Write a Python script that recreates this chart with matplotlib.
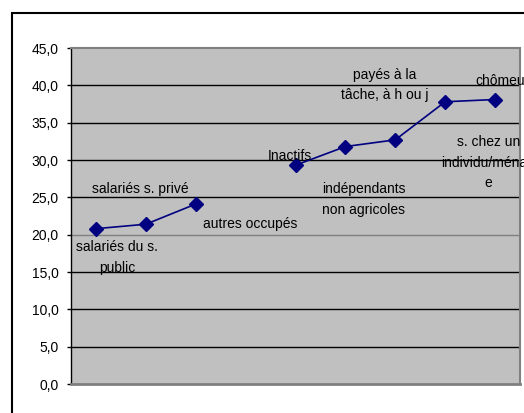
import numpy as np
import matplotlib
matplotlib.use("Agg")
import matplotlib.pyplot as plt
from matplotlib.patches import Rectangle
from matplotlib.ticker import FuncFormatter

# data (4th slot is empty in the original)
categories = ["salariés du s.\npublic", "salariés s. privé", "autres occupés", "",
              "Inactifs", "indépendants\nnon agricoles", "payés à la\ntâche, à h ou j",
              "s. chez un\nindividu/ménag\ne", "chômeurs"]
values = [20.8, 21.4, 24.1, np.nan, 29.3, 31.8, 32.7, 37.8, 38.1]
y_ticks = [0, 5, 10, 15, 20, 25, 30, 35, 40, 45]

# label offsets in pixels (x, y) relative to each point
label_offsets = [(21, -29), (-6, 35), (54, -20), (0, 0), (-6, 9),
                 (18, -53), (-11, 55), (43, -61), (11, 19)]

plt.rcParams['font.family'] = ['Liberation Sans', 'DejaVu Sans']
plt.rcParams['font.size'] = 10

fig = plt.figure(figsize=(5.24, 4.13), dpi=100)
fig.patch.set_facecolor("white")

# outer chart frame (cut off on the right and bottom)
frame = Rectangle((12 / 524, -0.1), 1.2, 1 - 13 / 413 + 0.1, transform=fig.transFigure,
                  fill=False, edgecolor="black", linewidth=1.5, zorder=0)
fig.patches.append(frame)

ax = fig.add_axes([71 / 524, 29 / 413, 449 / 524, 336 / 413])
ax.set_facecolor("#C0C0C0")

x = np.arange(len(categories))
ax.plot(x, values, color="#000080", marker="D", markersize=7, linewidth=1.2, zorder=3)

for i, (lab, v) in enumerate(zip(categories, values)):
    if not lab or np.isnan(v):
        continue
    dx, dy = label_offsets[i]
    ax.annotate(lab, (i, v), xytext=(dx, dy), textcoords="offset pixels",
                ha="center", va="center", multialignment="center",
                linespacing=1.6, fontsize=10, color="black",
                annotation_clip=False, zorder=4)

ax.set_xlim(-0.5, len(categories) - 0.5)
ax.set_ylim(0, 45)
ax.set_yticks(y_ticks)
ax.yaxis.set_major_formatter(FuncFormatter(lambda v, p: f"{v:.1f}".replace(".", ",")))
ax.set_xticks([])
ax.tick_params(axis="y", direction="out", length=3, width=1, pad=6, labelsize=10)

for yv in y_ticks[1:-1]:
    # the category axis crosses at 20 and is drawn grey
    ax.axhline(yv, color="#808080" if yv == 20 else "black", linewidth=1, zorder=1)

ax.spines["left"].set_color("black")
ax.spines["left"].set_linewidth(1)
for s in ["top", "right", "bottom"]:
    ax.spines[s].set_color("#808080")
    ax.spines[s].set_linewidth(1.5)
ax.spines["bottom"].set_linewidth(2)

fig.savefig("out.png", dpi=100)
